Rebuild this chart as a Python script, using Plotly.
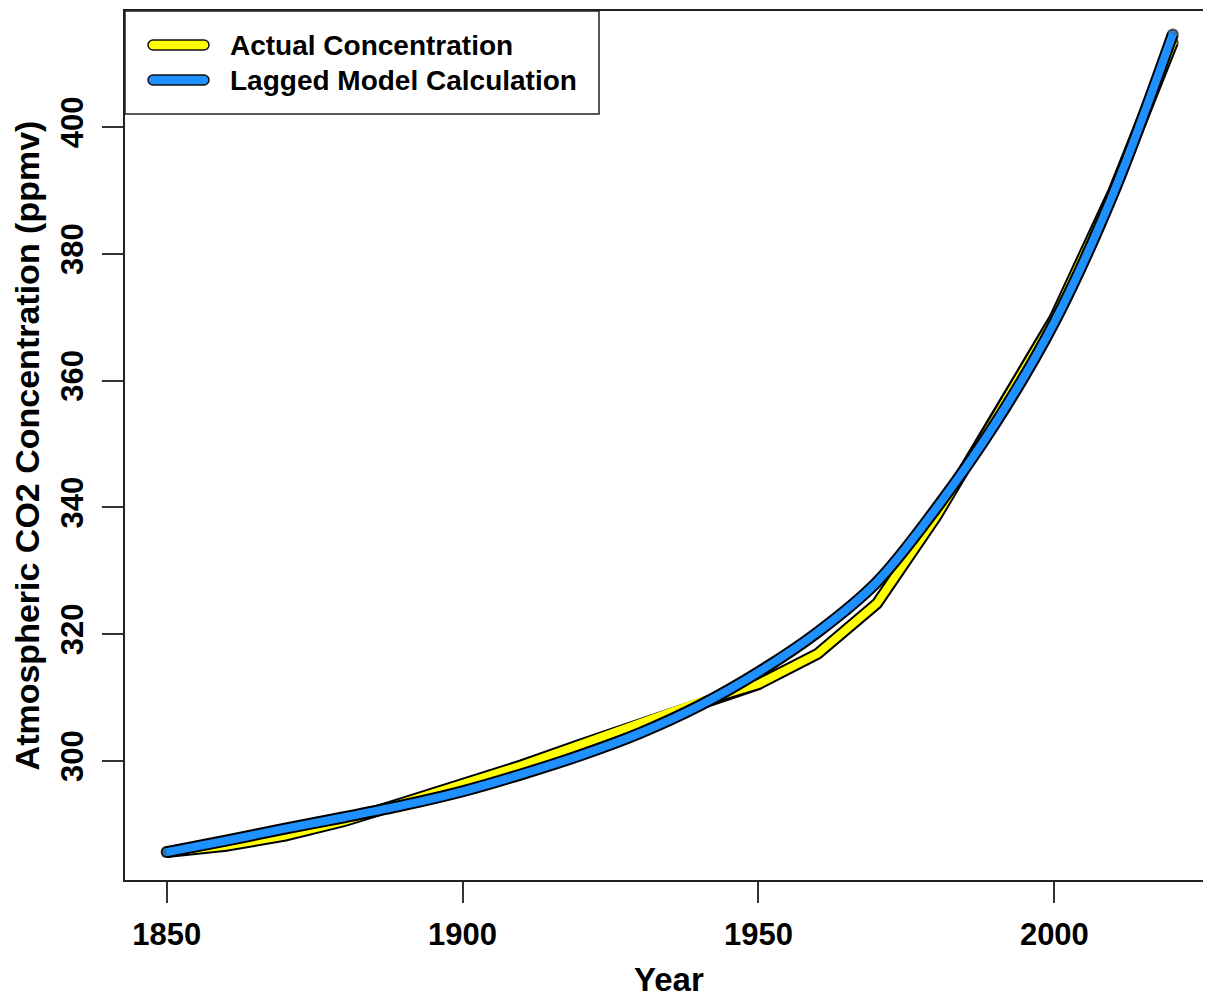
import plotly.graph_objects as go

# ---------------- data ----------------
years = [1850, 1860, 1870, 1880, 1890, 1900, 1910, 1920, 1930, 1940,
         1950, 1960, 1970, 1980, 1990, 2000, 2010, 2020]
actual = [285.6, 286.6, 288.2, 290.5, 293.4, 296.2, 299.3, 302.6, 305.8, 309.3,
          312.1, 316.9, 324.8, 338.5, 354.0, 369.8, 389.9, 413.3]
model = [285.6, 287.4, 289.3, 291.1, 293.0, 295.2, 297.9, 300.9, 304.4, 308.7,
         314.0, 320.3, 328.2, 339.8, 353.2, 369.2, 389.6, 414.6]
x_ticks = [1850, 1900, 1950, 2000]
y_ticks = [300, 320, 340, 360, 380, 400]
series_names = ["Actual Concentration", "Lagged Model Calculation"]
series_colors = ["#FFFF00", "#1E90FF"]

# page is offset by the 8px body margin
OFF = 8
W, H = 1203, 990
ML, MR, MT, MB = 125 - OFF, 1, 11 - OFF, H - (880 - OFF)
PW, PH = W - ML - MR, H - MT - MB
FONT = "Liberation Sans, Arial, Helvetica, sans-serif"


def px(x):
    return (x - OFF - ML) / PW


def py(y):
    return (H - MB - (y - OFF)) / PH


def end_sizes(n, s):
    return [s if i in (0, n - 1) else 0 for i in range(n)]


fig = go.Figure()
for ys, col, name, shape in [(actual, series_colors[0], series_names[0], "linear"),
                             (model, series_colors[1], series_names[1], "spline")]:
    n = len(years)
    fig.add_trace(go.Scatter(x=years, y=ys, mode="lines+markers", showlegend=False,
                             line=dict(color="black", width=12, shape=shape),
                             marker=dict(color="black", size=end_sizes(n, 12), line=dict(width=0)),
                             hoverinfo="skip"))
    fig.add_trace(go.Scatter(x=years, y=ys, mode="lines+markers", name=name, showlegend=False,
                             line=dict(color=col, width=8, shape=shape),
                             marker=dict(color=col, size=end_sizes(n, 8), line=dict(width=0))))

# ---------------- manual legend (R style) ----------------
shapes = [dict(type="rect", xref="paper", yref="paper",
               x0=px(125), x1=px(599), y0=py(114), y1=py(11),
               line=dict(color="#222", width=1.5), fillcolor="white", layer="above")]


def pill(x0, x1, yc, r):
    k = 0.5523 * r
    d = f"M{px(x0 + r)},{py(yc - r)} L{px(x1 - r)},{py(yc - r)} "
    d += f"C{px(x1 - r + k)},{py(yc - r)} {px(x1)},{py(yc - k)} {px(x1)},{py(yc)} "
    d += f"C{px(x1)},{py(yc + k)} {px(x1 - r + k)},{py(yc + r)} {px(x1 - r)},{py(yc + r)} "
    d += f"L{px(x0 + r)},{py(yc + r)} "
    d += f"C{px(x0 + r - k)},{py(yc + r)} {px(x0)},{py(yc + k)} {px(x0)},{py(yc)} "
    d += f"C{px(x0)},{py(yc - k)} {px(x0 + r - k)},{py(yc - r)} {px(x0 + r)},{py(yc - r)} Z"
    return d


annotations = []
for i, (name, col) in enumerate(zip(series_names, series_colors)):
    yc = 45 + 35 * i
    shapes.append(dict(type="path", xref="paper", yref="paper", path=pill(148, 209, yc, 5),
                       fillcolor=col, line=dict(color="#111", width=1.5), layer="above"))
    annotations.append(dict(x=px(228), y=py(yc), xref="paper", yref="paper",
                            xanchor="left", yanchor="middle", showarrow=False,
                            text=f"<b>{name}</b>", font=dict(size=28, color="black", family=FONT)))

# x-axis title, placed like R's mtext
annotations.append(dict(x=px(669), y=py(979), xref="paper", yref="paper",
                        xanchor="center", yanchor="middle", showarrow=False,
                        text="<b>Year</b>", font=dict(size=33, color="black", family=FONT)))

fig.update_layout(
    width=W, height=H,
    margin=dict(l=ML, r=MR, t=MT, b=MB, pad=0, autoexpand=False),
    paper_bgcolor="white", plot_bgcolor="white",
    font=dict(family=FONT, color="black"),
    shapes=shapes, annotations=annotations,
    showlegend=False,
)
fig.update_xaxes(range=[1842.95, 2026.3], tickvals=x_ticks,
                 ticktext=[f"<b>{v}</b>" for v in x_ticks],
                 tickfont=dict(size=31, family=FONT, color="black"),
                 ticks="outside", ticklen=21, tickwidth=1.5, tickcolor="#333",
                 ticklabelstandoff=5, automargin=False,
                 showline=True, mirror=True, linecolor="#222", linewidth=1.5,
                 showgrid=False, zeroline=False)
fig.update_yaxes(range=[281.2, 418.3], tickvals=y_ticks,
                 ticktext=[f"<b>{v}</b>" for v in y_ticks],
                 tickfont=dict(size=31, family=FONT, color="black"), tickangle=-90,
                 ticklabelstandoff=7, automargin=False,
                 ticks="outside", ticklen=21, tickwidth=1.5, tickcolor="#333",
                 showline=True, mirror=True, linecolor="#222", linewidth=1.5,
                 showgrid=False, zeroline=False,
                 title=dict(text="<b>Atmospheric CO2 Concentration (ppmv)</b>",
                            font=dict(size=34, family=FONT, color="black"), standoff=7))

fig.write_html("out.html")
